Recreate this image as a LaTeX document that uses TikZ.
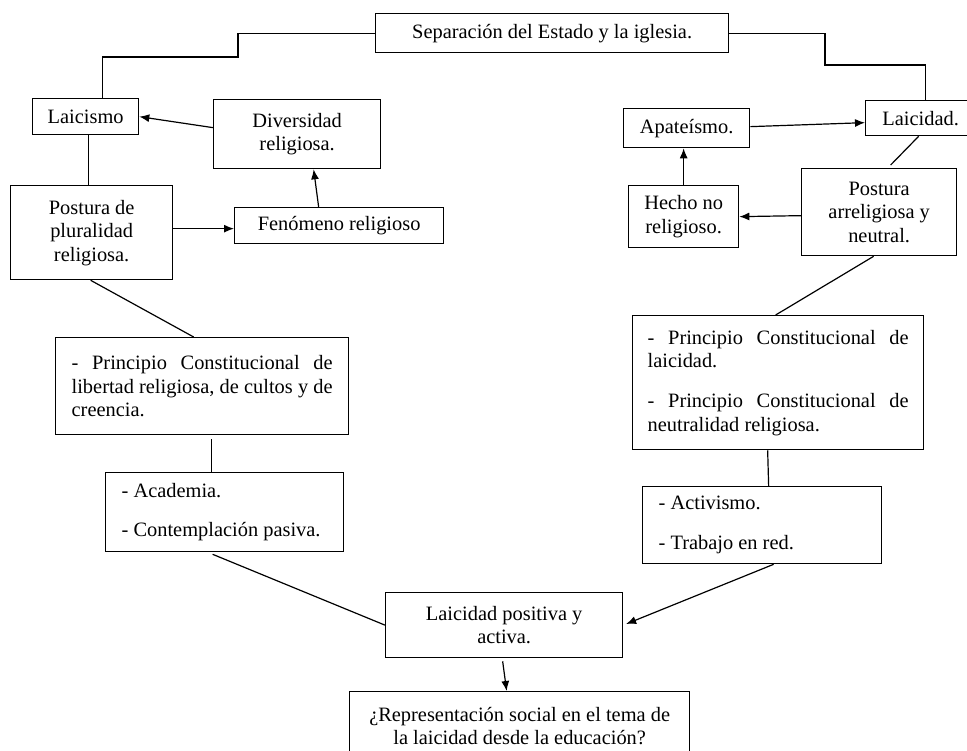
\documentclass[tikz,border=0pt]{standalone}
\usepackage{fontspec}
\setmainfont{Liberation Serif}
\usetikzlibrary{arrows.meta}
\newcommand\diafs{\fontsize{20.4pt}{23.5pt}\selectfont}
\begin{document}
\begin{tikzpicture}[x=1pt,y=-1pt,
  box/.style={draw, line width=1.3pt, inner sep=0pt, align=center, font=\diafs, anchor=north west},
  lbox/.style={box, align=flush left},
  conn/.style={line width=1.2pt},
  arr/.style={conn, -{Latex[length=10pt,width=8pt]}}]
\useasboundingbox (0,0) rectangle (967,751);
% boxes
\node[box, minimum width=353pt, minimum height=39pt] (top) at (375,13) {Separación del Estado y la iglesia.};
\node[box, minimum width=106pt, minimum height=36pt] (lcm) at (32,98) {Laicismo};
\node[box, minimum width=167pt, minimum height=69pt] (div) at (213,99) {Diversidad\\religiosa.};
\node[box, minimum width=162pt, minimum height=94pt] (pp) at (10,185) {Postura de\\pluralidad\\religiosa.};
\node[box, minimum width=209pt, minimum height=36pt] (fen) at (234,207) {Fenómeno religioso};
\node[box, minimum width=110pt, minimum height=35pt] (lcd) at (865,100) {Laicidad.};
\node[box, minimum width=126pt, minimum height=39pt] (ap) at (623,108) {Apateísmo.};
\node[box, minimum width=110pt, minimum height=62pt] (hec) at (628,185) {Hecho no\\religioso.};
\node[box, minimum width=155pt, minimum height=87pt] (pa) at (801,168) {Postura\\arreligiosa y\\neutral.};
\node[lbox, text width=261pt, inner xsep=16pt, minimum height=97pt] (pl) at (55,337)
  {\makebox[261pt][s]{- Principio Constitucional de}\\\makebox[261pt][s]{libertad religiosa, de cultos y de}\\creencia.};
\node[lbox, text width=261pt, inner xsep=15pt, minimum height=134pt] (pr) at (632,315)
  {\makebox[261pt][s]{- Principio Constitucional de}\\laicidad.\\[16.5pt]\makebox[261pt][s]{- Principio Constitucional de}\\neutralidad religiosa.};
\node[lbox, text width=206pt, inner xsep=16pt, minimum height=79pt] (aca) at (105,472)
  {- Academia.\\[15.5pt]- Contemplación pasiva.};
\node[lbox, text width=207pt, inner xsep=16pt, minimum height=77pt] (act) at (642,486)
  {- Activismo.\\[16.5pt]- Trabajo en red.};
\node[box, minimum width=237pt, minimum height=65pt] (lp) at (385,592) {Laicidad positiva y\\activa.};
\node[box, minimum width=340pt, minimum height=69pt] (rep) at (349,691) {¿Representación social en el tema de\\la laicidad desde la educación?};
% waypoints
\coordinate (lk) at (238,57);
\coordinate (rk) at (825,65);
% connectors
\draw[conn] (top.west) -| (lk) -| ([xshift=17pt]lcm.north);
\draw[conn] (top.east) -| (rk) -| ([xshift=5pt]lcd.north);
\draw[arr] ([yshift=6.5pt]div.west) -- (lcm.east);
\draw[conn] ([xshift=3pt]lcm.south) -- ([xshift=-3pt]pp.north);
\draw[arr] ([yshift=4pt]pp.east) -- ([yshift=-3pt]fen.west);
\draw[arr] ([xshift=-20.5pt]fen.north) -- ([xshift=16.5pt]div.south);
\draw[conn] ([xshift=-1pt]pp.south) -- ([xshift=-8.5pt]pl.north);
\draw[conn] ([shift={(9.5pt,-4pt)}]pl.south) -- ([xshift=-13pt]aca.north);
\draw[conn] ([shift={(-12pt,-2pt)}]aca.south) -- (lp.west);
\draw[arr] ([yshift=1.5pt]ap.east) -- ([yshift=-4.5pt]lcd.west);
\draw[arr] (hec.north) -- (hec.north |- ap.south);
\draw[arr] ([yshift=-3.5pt]pa.west) -- (hec.east);
\draw[conn] ([xshift=-2pt]lcd.south) -- ([shift={(11.5pt,3pt)}]pa.north);
\draw[conn] ([xshift=-5.5pt]pa.south) -- ([xshift=-2.5pt]pr.north);
\draw[conn] ([xshift=-10.5pt]pr.south) -- ([xshift=6.5pt]act.north);
\draw[arr, shorten >=3pt] ([xshift=11.5pt]act.south) -- (lp.east);
\draw[arr] ([shift={(-1.5pt,-3pt)}]lp.south) -- ([xshift=-13pt]rep.north);
\end{tikzpicture}
\end{document}
